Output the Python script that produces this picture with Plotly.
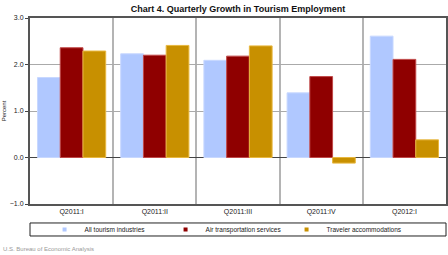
import plotly.graph_objects as go

quarters = ["Q2011:I", "Q2011:II", "Q2011:III", "Q2011:IV", "Q2012:I"]
all_tourism = [1.72, 2.23, 2.09, 1.39, 2.61]
air_transport = [2.36, 2.20, 2.18, 1.74, 2.11]
traveler_accom = [2.29, 2.41, 2.40, -0.12, 0.38]
y_ticks = [-1.0, 0.0, 1.0, 2.0, 3.0]

series = [
    ("All tourism industries", all_tourism, "#B0C8FF", "#C8D8FF"),
    ("Air transportation services", air_transport, "#8F0000", "#C04848"),
    ("Traveler accommodations", traveler_accom, "#C89000", "#E8B840"),
]

fig = go.Figure()

for name, vals, color, edge in series:
    fig.add_trace(go.Bar(
        x=quarters,
        y=vals,
        name=name,
        showlegend=False,
        marker=dict(color=color, line=dict(color=edge, width=1)),
    ))

# small square legend keys, like the original
for name, vals, color, edge in series:
    fig.add_trace(go.Scatter(
        x=[None], y=[None],
        mode="markers",
        name=name,
        marker=dict(symbol="square", size=4, color=color),
    ))

fig.update_layout(
    width=448,
    height=255,
    margin=dict(l=30, r=2, t=18, b=51, autoexpand=False),
    paper_bgcolor="white",
    plot_bgcolor="white",
    barmode="group",
    bargap=0.18,
    bargroupgap=0,
    font=dict(family="Liberation Sans, Arial, sans-serif", size=7, color="#222"),
    title=dict(
        text="<b>Chart 4. Quarterly Growth in Tourism Employment</b>",
        x=0.5, xanchor="center", xref="paper",
        y=0.978, yanchor="top", yref="container",
        font=dict(size=9, color="#111")
    ),
    showlegend=True,
    legend=dict(
        orientation="h",
        x=0.035, xanchor="left",
        y=-0.137, yanchor="middle",
        bgcolor="rgba(0,0,0,0)",
        font=dict(size=6.5),
        itemwidth=30,
        entrywidth=76,
        tracegroupgap=0,
    ),
)

fig.update_xaxes(
    type="category",
    automargin=False,
    tickson="boundaries",
    showgrid=True,
    gridcolor="#B4B4B4",
    gridwidth=1.5,
    showline=True,
    linecolor="#555",
    linewidth=2,
    ticks="",
    mirror=True,
    tickfont=dict(size=7),
)

fig.update_yaxes(
    range=[-1.0, 3.0],
    automargin=False,
    tickvals=y_ticks,
    tickformat=".1f",
    showgrid=True,
    gridcolor="#AAAAAA",
    gridwidth=1,
    zeroline=True,
    zerolinecolor="#444",
    zerolinewidth=1,
    showline=True,
    linecolor="#555",
    linewidth=2,
    mirror=True,
    ticks="outside",
    ticklen=3,
    tickcolor="#444",
    tickfont=dict(size=7),
    title=dict(text="Percent", font=dict(size=6), standoff=3),
)

# legend frame and source note
fig.add_shape(type="rect", xref="paper", yref="paper",
              x0=0.0, x1=1.0, y0=-0.172, y1=-0.102,
              line=dict(color="#222", width=1), fillcolor="rgba(0,0,0,0)")
fig.add_annotation(text="U.S. Bureau of Economic Analysis", xref="paper", yref="paper",
                   x=-0.07, xanchor="left", y=-0.242, yanchor="middle",
                   showarrow=False, font=dict(size=6, color="#999"))

# page has a default 8px body margin; drop it so the chart fills the window
fig.write_html("out.html", config={"displayModeBar": False},
               post_script="document.body.style.margin='0';")
